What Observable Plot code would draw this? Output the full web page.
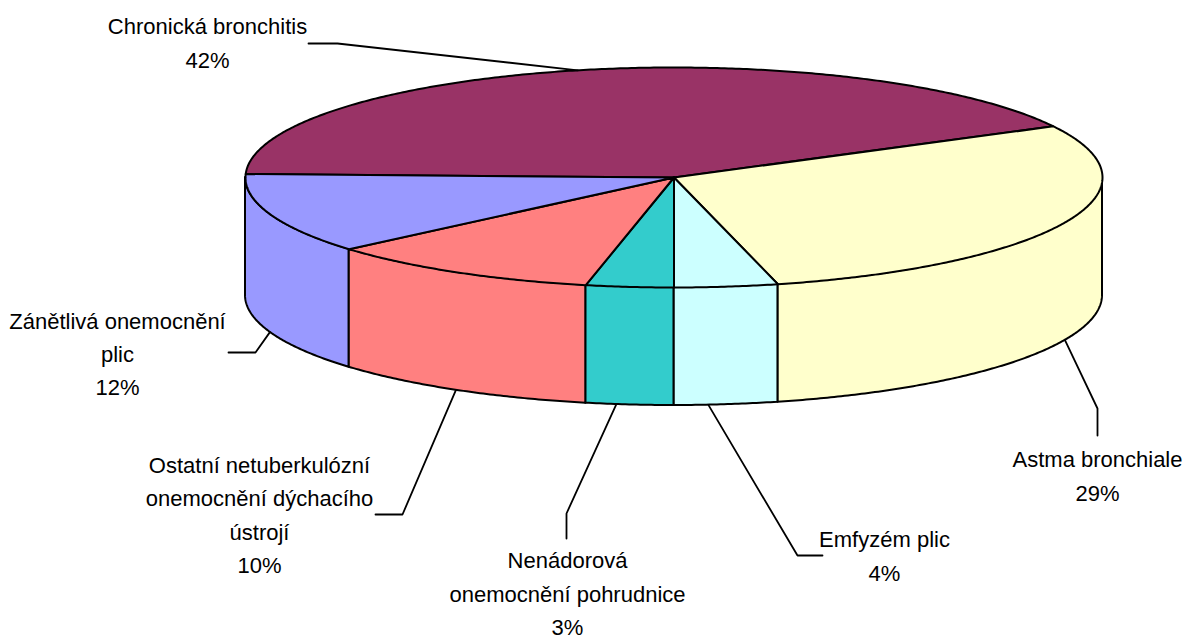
<!DOCTYPE html>
<html><head><meta charset="utf-8">
<script src="https://cdn.jsdelivr.net/npm/d3@7"></script>
<script src="https://cdn.jsdelivr.net/npm/@observablehq/plot@0.6"></script>
<style>html,body{margin:0;padding:0;background:#fff;overflow:hidden}</style>
</head><body><div id="chart"></div>
<script>
// ---- data ----
const categories = ["Chronická bronchitis", "Astma bronchiale", "Emfyzém plic", "Nenádorová onemocnění pohrudnice", "Ostatní netuberkulózní onemocnění dýchacího ústrojí", "Zánětlivá onemocnění plic"];
const values = [41.8, 28.8, 3.9, 3.3, 10.4, 11.8];
const colors = ["#993366", "#FFFFCC", "#CCFFFF", "#33CCCC", "#FF8080", "#9999FF"];

// ---- layout ----
const W = 1183, H = 640;
const pie = {cx: 673.5, cy: 177, rx: 428.5, ry: 110, depth: 118, start: 181.8};
const lineWords = [[2], [2], [2], [1, 2], [2, 2, 1], [2, 1]];
const labelPos = [[207, 40], [1097, 472.8], [884, 552.8], [567, 590.5], [259, 511.8], [117, 350.8]];
const elbows = [[[308, 43], [337, 43]], [[1097, 435], [1097, 408]], [[822, 555], [797, 555]], [[566, 538], [566, 513]], [[375, 514], [402, 514]], [[228, 352], [255, 352]]];
const anchorShift = [0, 0, 2.4, 1.8, 0, 0];

// ---- geometry from data ----
const total = d3.sum(values);
let acc = pie.start;
const slices = categories.map((name, i) => {
  const a0 = acc, a1 = acc + values[i] / total * 360;
  acc = a1;
  return {name, i, a0, a1, mid: (a0 + a1) / 2};
});
const rad = d => d * Math.PI / 180;
const px = t => pie.cx + pie.rx * Math.cos(rad(t));
const py = t => pie.cy + pie.ry * Math.sin(rad(t));
function arcPts(a0, a1) {
  const n = Math.max(2, Math.ceil((a1 - a0) / 0.5));
  return d3.range(n + 1).map(k => a0 + (a1 - a0) * k / n);
}
const topPts = [];
slices.forEach(s => {
  topPts.push({name: s.name, x: pie.cx, y: pie.cy});
  arcPts(s.a0, s.a1).forEach(t => topPts.push({name: s.name, x: px(t), y: py(t)}));
  topPts.push({name: s.name, x: pie.cx, y: pie.cy});
});
const sidePts = [];
slices.forEach(s => {
  for (const off of [0, 360]) {
    const lo = Math.max(s.a0, off), hi = Math.min(s.a1, off + 180);
    if (hi > lo) arcPts(lo, hi).forEach(t => sidePts.push({key: s.name + off, cat: s.name, x: px(t), y1: py(t), y2: py(t) + pie.depth}));
  }
});
const leaderPts = [];
slices.forEach((s, i) => {
  elbows[i].forEach(p => leaderPts.push({k: i, x: p[0], y: p[1]}));
  const t = s.mid + anchorShift[i];
  const front = Math.sin(rad(t)) > 0;
  leaderPts.push({k: i, x: px(t), y: py(t) + (front ? pie.depth : 0)});
});
const labels = slices.map((s, i) => {
  const words = s.name.split(" ");
  const lines = [];
  let w = 0;
  for (const n of lineWords[i]) { lines.push(words.slice(w, w + n).join(" ")); w += n; }
  lines.push(Math.round(values[i]) + "%");
  return {x: labelPos[i][0], y: labelPos[i][1], text: lines.join("\n")};
});

const chart = Plot.plot({
  width: W, height: H, margin: 0,
  x: {domain: [0, W], range: [0, W], axis: null},
  y: {domain: [0, H], range: [0, H], axis: null},
  color: {domain: categories, range: colors},
  style: {background: "#fff"},
  marks: [
    Plot.areaY(sidePts, {x: "x", y1: "y1", y2: "y2", z: "key", fill: "cat", stroke: "black", strokeWidth: 2, strokeLinejoin: "round"}),
    Plot.line(topPts, {x: "x", y: "y", z: "name", fill: "name", stroke: "black", strokeWidth: 2, strokeLinejoin: "round"}),
    Plot.line(leaderPts, {x: "x", y: "y", z: "k", stroke: "black", strokeWidth: 1.8}),
    Plot.text(labels, {x: "x", y: "y", text: "text", fontSize: 22, fontFamily: "'Liberation Sans', Arial, sans-serif", lineHeight: 1.52, fill: "black"})
  ]
});
document.getElementById("chart").appendChild(chart);
</script>
</body></html>
